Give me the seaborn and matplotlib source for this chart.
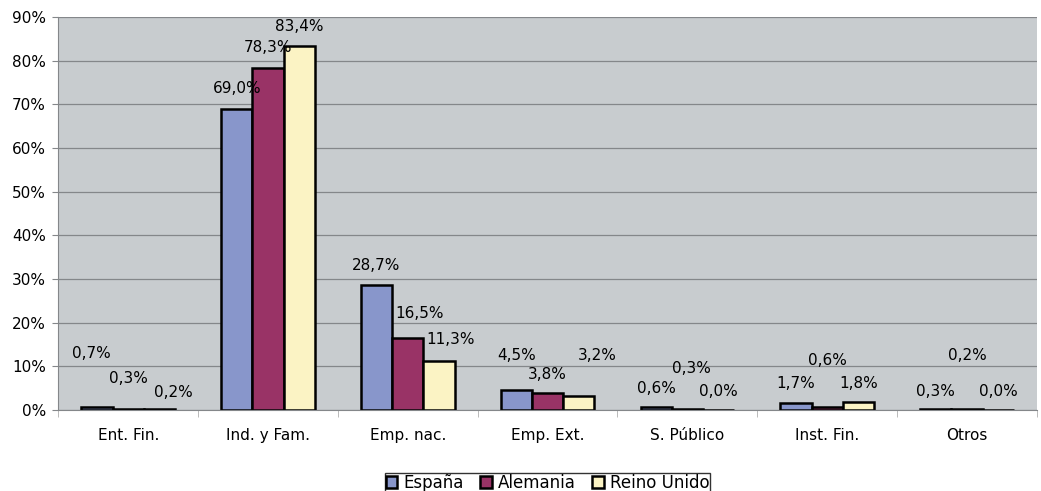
import numpy as np
import pandas as pd
import seaborn as sns
import matplotlib.pyplot as plt
from matplotlib.ticker import PercentFormatter

categories = ['Ent. Fin.', 'Ind. y Fam.', 'Emp. nac.', 'Emp. Ext.', 'S. Público', 'Inst. Fin.', 'Otros']
series = ['España', 'Alemania', 'Reino Unido']
espana = [0.7, 69.0, 28.7, 4.5, 0.6, 1.7, 0.3]
alemania = [0.3, 78.3, 16.5, 3.8, 0.3, 0.6, 0.2]
reino_unido = [0.2, 83.4, 11.3, 3.2, 0.0, 1.8, 0.0]

# where each value label sits in the original: height in % and sideways nudge
label_y = {
    'España': [13.0, 73.7, 33.0, 12.4, 5.0, 6.0, 4.3],
    'Alemania': [7.3, 83.1, 22.2, 8.2, 9.4, 11.4, 12.4],
    'Reino Unido': [4.1, 87.9, 16.2, 12.4, 4.3, 6.0, 4.3],
}
label_dx = {
    'España': [-0.04, 0, 0, 0, 0, 0, 0],
    'Alemania': [0, 0, 0.085, 0, 0.03, 0, 0],
    'Reino Unido': [0.1, 0, 0.08, 0.13, 0, 0, 0],
}

colors = ['#8896CB', '#993366', '#FBF3C4']

df = pd.DataFrame({
    'cat': categories * 3,
    'serie': np.repeat(series, len(categories)),
    'valor': espana + alemania + reino_unido,
})

sns.set_style('white')
plt.rcParams['font.family'] = ['DejaVu Sans']
plt.rcParams['text.color'] = 'black'

fig, ax = plt.subplots(figsize=(10.41, 4.91), dpi=100)
fig.subplots_adjust(left=0.056, right=0.996, top=0.965, bottom=0.165)

sns.barplot(data=df, x='cat', y='valor', hue='serie', palette=colors, saturation=1,
            width=0.67, edgecolor='black', linewidth=1.8, ax=ax, legend=True)

ax.set_facecolor('#C8CCCF')
ax.set_ylim(0, 90)
ax.set_xlim(-0.5, len(categories) - 0.5)
ax.set_yticks(range(0, 91, 10))
ax.yaxis.set_major_formatter(PercentFormatter(decimals=0))
ax.grid(axis='y', color='#84878a', linewidth=0.9)
ax.set_axisbelow(True)
for s in ['top', 'right']:
    ax.spines[s].set_visible(False)
ax.spines['left'].set_color('#84878a')
ax.spines['bottom'].set_color('#84878a')
ax.tick_params(axis='y', labelsize=11, length=4, color='#84878a', labelcolor='black',
               left=True, pad=5)
ax.tick_params(axis='x', labelsize=11, length=0, pad=13, labelcolor='black')
ax.set_xticks(np.arange(len(categories) + 1) - 0.5, minor=True)
ax.tick_params(axis='x', which='minor', length=5, color='#b0b0b0', bottom=True)
ax.set_xlabel('')
ax.set_ylabel('')

for cont, name in zip(ax.containers, series):
    for bar, ypos, dx in zip(cont, label_y[name], label_dx[name]):
        val = bar.get_height()
        ax.text(bar.get_x() + bar.get_width() / 2 + dx, ypos,
                f'{val:.1f}%'.replace('.', ','), ha='center', va='center', fontsize=11)

ax.legend(loc='upper center', bbox_to_anchor=(0.5, -0.16), ncol=3, frameon=True,
          fancybox=False, edgecolor='black', fontsize=12, handlelength=0.7,
          handleheight=0.7, handletextpad=0.35, columnspacing=1.0, borderpad=0.05,
          borderaxespad=0)

plt.savefig('out.png', dpi=100)
plt.close()
